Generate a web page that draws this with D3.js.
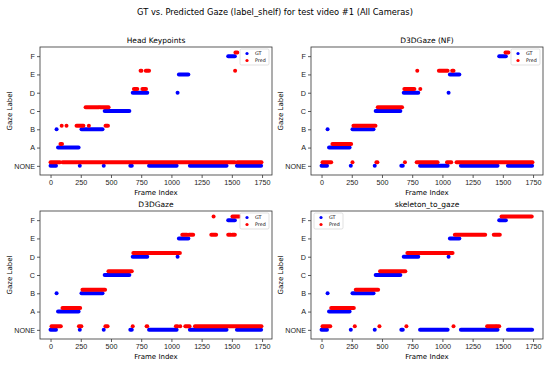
<!DOCTYPE html>
<html>
  <head>
    <script src="https://cdnjs.cloudflare.com/ajax/libs/d3/7.8.5/d3.min.js"></script>
    <style>
      body { margin: 0; background: #fff; font-family: "DejaVu Sans", sans-serif; }
      .spine { fill: none; stroke: #333; stroke-width: 0.8px; }
      .tick line { stroke: #333; stroke-width: 0.8px; }
      .tick text { font-size: 7.2px; fill: #222; }
      .run { fill: none; stroke-linecap: round; }
    </style>
  </head>
  <body>
    <svg id="chart" width="550" height="365"></svg>
    <script>
      const svg = d3.select("#chart");

      const suptitle = "GT vs. Predicted Gaze (label_shelf) for test video #1 (All Cameras)";
      const labels = ["NONE", "A", "B", "C", "D", "E", "F"];
      const xTicks = [0, 250, 500, 750, 1000, 1250, 1500, 1750];
      const frameExtent = [0, 1745];
      const predOffset = 0.2;

      // runs: [startFrame, endFrame, labelIndex]
      const gtRuns = [
        [0, 45, 0], [50, 50, 2], [62, 232, 1], [242, 242, 0], [256, 430, 2],
        [440, 440, 0], [448, 652, 3], [660, 672, 0], [680, 800, 4],
        [815, 1043, 0], [1051, 1051, 4], [1062, 1140, 5], [1153, 1456, 0],
        [1470, 1525, 6], [1542, 1742, 0]
      ];

      const predHead = [
        [0, 78, 0], [82, 95, 1], [100, 1525, 0], [1545, 1745, 0],
        [92, 92, 2], [132, 132, 2], [215, 272, 2], [317, 317, 2], [455, 475, 2],
        [290, 400, 3], [410, 480, 3],
        [690, 718, 4], [760, 790, 4],
        [745, 752, 5], [788, 815, 5], [1527, 1527, 5],
        [1530, 1545, 6]
      ];

      const predNF = [
        [8, 80, 0], [256, 256, 0], [454, 462, 0], [690, 690, 0], [787, 960, 0],
        [1038, 1073, 0], [1117, 1745, 0],
        [90, 245, 1],
        [264, 446, 2],
        [465, 666, 3],
        [685, 768, 4], [817, 817, 4],
        [792, 792, 5], [971, 1043, 5], [1081, 1092, 5],
        [1522, 1546, 6]
      ];

      const predD3D = [
        [8, 85, 0], [235, 255, 0], [454, 472, 0], [680, 680, 0], [795, 800, 0],
        [1037, 1050, 0], [1073, 1073, 0], [1115, 1150, 0], [1195, 1745, 0],
        [99, 245, 1],
        [264, 451, 2],
        [479, 672, 3],
        [685, 1070, 4],
        [1090, 1130, 5], [1145, 1180, 5], [1330, 1370, 5], [1470, 1490, 5], [1505, 1525, 5],
        [1349, 1349, 6], [1505, 1525, 6], [1535, 1560, 6]
      ];

      const predSkel = [
        [8, 72, 0], [275, 275, 0], [479, 479, 0], [702, 702, 0], [1092, 1092, 0],
        [1370, 1440, 0], [1450, 1470, 0],
        [80, 267, 1],
        [283, 468, 2],
        [484, 693, 3],
        [710, 1084, 4],
        [1103, 1354, 5], [1425, 1475, 5],
        [1489, 1739, 6]
      ];

      const panels = [
        { title: "Head Keypoints", pred: predHead, x: 40, y: 47, legend: "right" },
        { title: "D3DGaze (NF)", pred: predNF, x: 311, y: 47, legend: "right" },
        { title: "D3DGaze", pred: predD3D, x: 40, y: 211, legend: "right" },
        { title: "skeleton_to_gaze", pred: predSkel, x: 311, y: 211, legend: "left" }
      ];

      const w = 232, h = 128;
      const pad = (frameExtent[1] - frameExtent[0]) * 0.05;

      svg.append("text")
        .attr("x", 275).attr("y", 15)
        .attr("text-anchor", "middle")
        .style("font-size", "8.3px")
        .text(suptitle);

      panels.forEach((p) => {
        const g = svg.append("g").attr("transform", `translate(${p.x},${p.y})`);
        const x = d3.scaleLinear()
          .domain([frameExtent[0] - pad, frameExtent[1] + pad])
          .range([0, w]);
        const y = d3.scaleLinear().domain([-0.5, 6.5]).range([h, 0]);

        g.append("g")
          .attr("transform", `translate(0,${h})`)
          .call(d3.axisBottom(x).tickValues(xTicks).tickFormat(d3.format("d")).tickSize(3).tickPadding(2))
          .call((a) => a.select(".domain").remove());

        g.append("g")
          .call(d3.axisLeft(y).tickValues(d3.range(7)).tickFormat((d) => labels[d]).tickSize(3).tickPadding(2))
          .call((a) => a.select(".domain").remove());

        const drawRuns = (runs, color, off) => {
          g.selectAll(null)
            .data(runs)
            .enter()
            .append("line")
            .attr("class", "run")
            .attr("x1", (d) => x(d[0]))
            .attr("x2", (d) => x(d[1]))
            .attr("y1", (d) => y(d[2] + off))
            .attr("y2", (d) => y(d[2] + off))
            .attr("stroke", color)
            .attr("stroke-width", 4);
        };
        drawRuns(gtRuns, "#0000ff", 0);
        drawRuns(p.pred, "#ff0000", predOffset);

        g.append("rect").attr("class", "spine").attr("width", w).attr("height", h);

        g.append("text")
          .attr("x", w / 2).attr("y", -4)
          .attr("text-anchor", "middle")
          .style("font-size", "7.5px")
          .text(p.title);

        g.append("text")
          .attr("x", w / 2).attr("y", h + 20)
          .attr("text-anchor", "middle")
          .style("font-size", "7px")
          .text("Frame Index");

        g.append("text")
          .attr("transform", `translate(-28,${h / 2}) rotate(-90)`)
          .attr("text-anchor", "middle")
          .style("font-size", "7px")
          .text("Gaze Label");

        // legend
        const lx = p.legend === "right" ? w - 32 : 3;
        const lg = g.append("g").attr("transform", `translate(${lx},2)`);
        lg.append("rect")
          .attr("width", 29).attr("height", 16).attr("rx", 1.5)
          .attr("fill", "#fff").attr("fill-opacity", 0.8)
          .attr("stroke", "#ccc").attr("stroke-width", 0.6);
        [["GT", "#0000ff"], ["Pred", "#ff0000"]].forEach((e, i) => {
          lg.append("circle").attr("cx", 7).attr("cy", 4.5 + i * 7).attr("r", 1.6).attr("fill", e[1]);
          lg.append("text").attr("x", 15).attr("y", 6.3 + i * 7)
            .style("font-size", "4.8px").text(e[0]);
        });
      });
    </script>
  </body>
</html>
